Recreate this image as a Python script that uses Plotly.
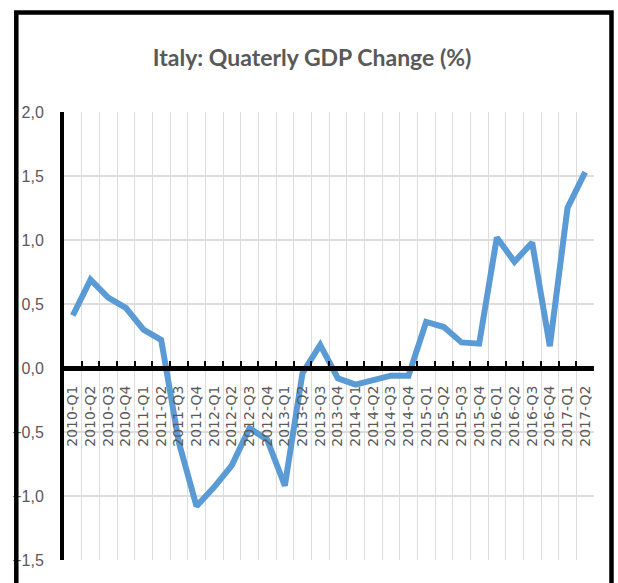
import plotly.graph_objects as go

# trimestres
trimestres = [f"{ano}-Q{q}" for ano in range(2010, 2018) for q in range(1, 5)][:30]

# variacao do PIB trimestral (%)
variacao_pib = [0.41, 0.69, 0.55, 0.47, 0.30, 0.22, -0.58, -1.08, -0.93, -0.76,
                -0.47, -0.56, -0.92, -0.04, 0.18, -0.08, -0.13, -0.09, -0.06, -0.06,
                0.36, 0.32, 0.20, 0.19, 1.02, 0.83, 0.98, 0.17, 1.25, 1.53]

y_ticks = [-1.5, -1.0, -0.5, 0.0, 0.5, 1.0, 1.5, 2.0]

cinza = "#595959"

fig = go.Figure()
fig.add_trace(go.Scatter(x=trimestres, y=variacao_pib, mode="lines",
                         line=dict(color="#5B9BD5", width=6), hoverinfo="x+y"))

fig.update_layout(
    width=618, height=583,
    margin=dict(l=61, r=24, t=112, b=23),
    paper_bgcolor="white", plot_bgcolor="white",
    separators=",.",
    showlegend=False,
    title=dict(text="Italy: Quaterly GDP Change (%)", x=0.505, xanchor="center",
               y=0.90, yanchor="middle",
               font=dict(family="Lato", size=23, color=cinza, weight="bold")),
)

# eixo x passando pelo zero, todos os rotulos (dtick=1)
fig.update_xaxes(
    type="category", range=[-0.5, 29.5],
    tickmode="linear", tick0=0, dtick=1,
    anchor="free", position=1.5 / 3.5,
    showline=True, linecolor="black", linewidth=5,
    tickson="boundaries", ticks="inside", ticklen=5, tickwidth=2, tickcolor="black",
    tickangle=-90, ticklabelstandoff=9,
    tickfont=dict(family="DejaVu Sans", size=14, color=cinza),
    showgrid=True, gridcolor="#DDDDDD", gridwidth=1,
    zeroline=False,
)

fig.update_yaxes(
    range=[-1.5, 2.0], tickvals=y_ticks, tickformat=".1f",
    showline=True, linecolor="black", linewidth=4,
    ticks="", ticklabelstandoff=13,
    tickfont=dict(family="Liberation Sans", size=16, color=cinza),
    showgrid=True, gridcolor="#DDDDDD", gridwidth=1.5,
    zeroline=False,
)

# moldura preta
fig.add_shape(type="rect", xref="paper", yref="paper",
              x0=-0.090, x1=1.033, y0=-0.08, y1=1.222,
              line=dict(color="black", width=4.5), layer="above")

# tira a margem do body pra figura ficar no canto
fig.write_html("out.html", config={"displayModeBar": False},
               post_script="document.body.style.margin='0';")
